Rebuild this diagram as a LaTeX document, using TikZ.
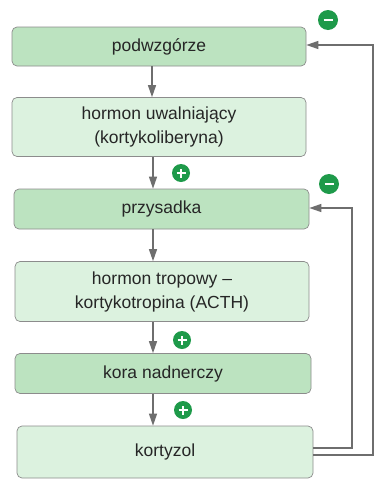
\documentclass[tikz,border=0pt]{standalone}
\usepackage{fontspec}
\setmainfont{Liberation Sans}
\usetikzlibrary{arrows.meta}
\definecolor{boxdark}{HTML}{BCE3C0}
\definecolor{boxlight}{HTML}{DCF2DF}
\definecolor{signgreen}{HTML}{1E9A4A}
\definecolor{linegray}{HTML}{6E6E6E}
\definecolor{edgegray}{HTML}{8C8C8C}
\begin{document}
\begin{tikzpicture}[x=1pt,y=-1pt,
  box/.style={draw=edgegray, line width=0.7pt, rounded corners=5pt,
    align=center, inner sep=0pt, font=\fontsize{17.5}{24}\selectfont, text=black!85},
  dark/.style={box, fill=boxdark},
  light/.style={box, fill=boxlight},
  arr/.style={draw=linegray, line width=1.3pt,
    -{Triangle[length=12pt,width=8pt,fill=linegray]}},
  fb/.style={draw=linegray, line width=1.3pt,
    -{Triangle[length=12pt,width=8pt,fill=linegray]}},
  sign/.style={circle, fill=signgreen, minimum size=20pt, inner sep=0pt},
  bar/.style={white, line width=2.6pt}]
\useasboundingbox (0,0) rectangle (383,493);
\fill[white] (0,0) rectangle (383,493);

% chain of boxes
\node[dark,  minimum width=294pt, minimum height=39pt] (b1) at (159,46.5) {podwzgórze};
\node[light, minimum width=294pt, minimum height=59pt] (b2) at (159,127) {hormon uwalniający\\(kortykoliberyna)};
\node[dark,  minimum width=295pt, minimum height=40pt] (b3) at (161.5,209) {przysadka};
\node[light, minimum width=294pt, minimum height=60pt] (b4) at (162,291.5) {hormon tropowy –\\kortykotropina (ACTH)};
\node[dark,  minimum width=296pt, minimum height=40pt] (b5) at (163,373.5) {kora nadnerczy};
\node[light, minimum width=296pt, minimum height=52pt] (b6) at (165,452) {kortyzol};

% downward arrows
\draw[arr] ([xshift=-7pt]b1.south) -- ([xshift=-7pt]b1.south |- b2.north);
\draw[arr] ([xshift=-6pt]b2.south) -- ([xshift=-6pt]b2.south |- b3.north);
\draw[arr] ([xshift=-8.5pt]b3.south) -- ([xshift=-8.5pt]b3.south |- b4.north);
\draw[arr] ([xshift=-9pt]b4.south) -- ([xshift=-9pt]b4.south |- b5.north);
\draw[arr] ([xshift=-10pt]b5.south) -- ([xshift=-10pt]b5.south |- b6.north);

% feedback loops from kortyzol
\coordinate (o1) at (373,455);
\coordinate (o2) at (373,45);
\coordinate (i1) at (352,448);
\coordinate (i2) at (352,208);
\draw[fb] (b6.east |- o1) -- (o1) -- (o2) -- (b1.east |- o2);
\draw[fb] (b6.east |- i1) -- (i1) -- (i2) -- (b3.east |- i2);

% signs
\node[sign] (m1) at (328,20) {};
\draw[bar] ([xshift=-4.5pt]m1.center) -- ([xshift=4.5pt]m1.center);
\node[sign] (m2) at (329,184) {};
\draw[bar] ([xshift=-4.5pt]m2.center) -- ([xshift=4.5pt]m2.center);
\node[sign, minimum size=18pt] (p1) at (181,173) {};
\draw[bar, line width=2.3pt] ([xshift=-4.5pt]p1.center) -- ([xshift=4.5pt]p1.center)
  ([yshift=-4.5pt]p1.center) -- ([yshift=4.5pt]p1.center);
\node[sign, minimum size=18pt] (p2) at (182,340) {};
\draw[bar, line width=2.3pt] ([xshift=-4.5pt]p2.center) -- ([xshift=4.5pt]p2.center)
  ([yshift=-4.5pt]p2.center) -- ([yshift=4.5pt]p2.center);
\node[sign, minimum size=18pt] (p3) at (183,410) {};
\draw[bar, line width=2.3pt] ([xshift=-4.5pt]p3.center) -- ([xshift=4.5pt]p3.center)
  ([yshift=-4.5pt]p3.center) -- ([yshift=4.5pt]p3.center);
\end{tikzpicture}
\end{document}
